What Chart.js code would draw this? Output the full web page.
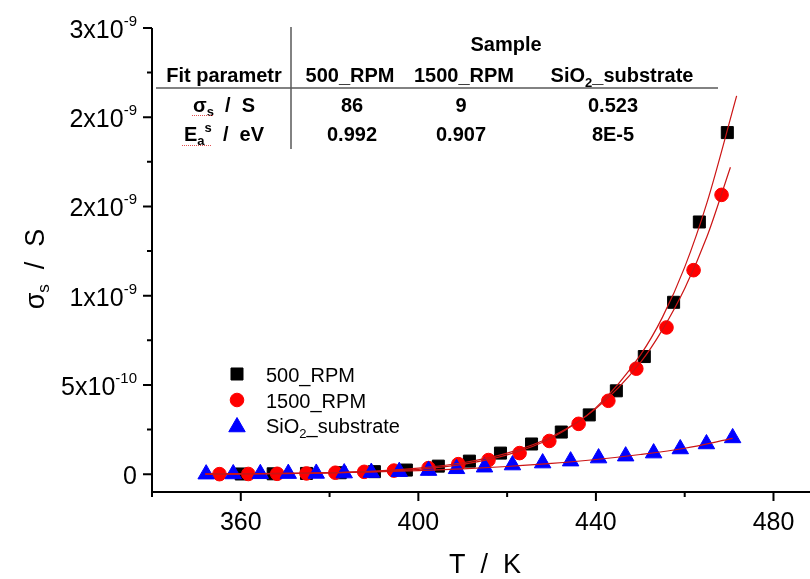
<!DOCTYPE html>
<html>
<head>
<meta charset="utf-8">
<script src="https://cdn.jsdelivr.net/npm/chart.js@4.4.0/dist/chart.umd.min.js"></script>
<style>
  html, body { margin: 0; padding: 0; background: #fff; overflow: hidden; }
  #wrap { width: 810px; height: 579px; }
</style>
</head>
<body>
<div id="wrap"><canvas id="chart"></canvas></div>
<script>
// Surface conductance vs temperature (T in K, sigma in S)

const temp500 = [360.1, 367.3, 374.8, 382.4, 390.1, 397.3, 404.5, 411.5, 418.5, 425.5, 432.2, 438.5, 444.6, 450.9, 457.5, 463.3, 469.6];
const sigma500 = [1e-12, 2e-12, 4e-12, 8e-12, 1.4e-11, 2.3e-11, 4.5e-11, 7.3e-11, 1.18e-10, 1.69e-10, 2.36e-10, 3.32e-10, 4.67e-10, 6.59e-10, 9.63e-10, 1.413e-9, 1.914e-9];

const temp1500 = [355.2, 361.7, 368.2, 374.8, 381.3, 387.8, 394.5, 402.3, 409.0, 415.8, 422.8, 429.5, 436.1, 442.8, 449.1, 455.9, 462.0, 468.3];
const sigma1500 = [0, 1e-12, 2e-12, 4e-12, 8e-12, 1.3e-11, 2.0e-11, 3.4e-11, 5.6e-11, 7.9e-11, 1.18e-10, 1.86e-10, 2.82e-10, 4.11e-10, 5.91e-10, 8.22e-10, 1.143e-9, 1.565e-9];

const tempSiO2 = [352.2, 358.3, 364.4, 370.7, 377.0, 383.3, 389.4, 395.7, 402.3, 408.6, 414.9, 421.2, 428.0, 434.3, 440.6, 446.7, 453.0, 459.0, 464.9, 470.8];
const sigmaSiO2 = [0, 1e-12, 2e-12, 3e-12, 4e-12, 6e-12, 9e-12, 1.4e-11, 2.0e-11, 3.0e-11, 3.9e-11, 5.1e-11, 6.2e-11, 7.3e-11, 9.0e-11, 1.01e-10, 1.18e-10, 1.41e-10, 1.69e-10, 2.03e-10];

// fitted curves
const fitTemp500 = [352, 360, 370, 380, 390, 400, 410, 420, 430, 440, 450, 455, 460, 465, 471.7];
const fitSigma500 = [4e-13, 1e-12, 3e-12, 7e-12, 1.4e-11, 2.7e-11, 5.5e-11, 1.08e-10, 2.03e-10, 3.73e-10, 6.67e-10, 8.8e-10, 1.16e-9, 1.52e-9, 2.12e-9];

const fitTemp1500 = [352, 360, 370, 380, 390, 400, 410, 420, 430, 440, 450, 455, 460, 465, 470.3];
const fitSigma1500 = [1e-12, 2e-12, 4e-12, 8e-12, 1.7e-11, 3.4e-11, 6.4e-11, 1.18e-10, 2.1e-10, 3.67e-10, 6.25e-10, 8.1e-10, 1.04e-9, 1.33e-9, 1.72e-9];

const fitTempSiO2 = [352, 370, 390, 400, 410, 420, 430, 440, 450, 460, 470.8];
const fitSigmaSiO2 = [0, 4e-12, 1.2e-11, 2.0e-11, 3.0e-11, 4.3e-11, 6.0e-11, 8.2e-11, 1.1e-10, 1.45e-10, 2.0e-10];

// axis ticks and labels
const xMajorTicks = [360, 400, 440, 480];
const xMinorTicks = [340, 380, 420, 460];
const yMajorTicks = [0, 5e-10, 1e-9, 1.5e-9, 2e-9, 2.5e-9];
const yMinorTicks = [2.5e-10, 7.5e-10, 1.25e-9, 1.75e-9, 2.25e-9];
const yTickLabels = [['0', ''], ['5x10', '-10'], ['1x10', '-9'], ['2x10', '-9'], ['2x10', '-9'], ['3x10', '-9']];

// fit parameter table
const tableSample = 'Sample';
const tableHeader = ['Fit parametr', '500_RPM', '1500_RPM', 'SiO2_substrate'];
const sigmaRow = ['86', '9', '0.523'];
const energyRow = ['0.992', '0.907', '8E-5'];

const FONT = '"Liberation Sans", Arial, sans-serif';
const FIT_COLOR = '#cc1414';

function toPoints(xs, ys) {
    return xs.map((x, i) => ({ x: x, y: ys[i] }));
}

// draws a run of text pieces (for sub/superscripts)
function drawRich(ctx, parts, x, y, align) {
    let total = 0;
    parts.forEach(p => {
        ctx.font = (p.bold ? 'bold ' : '') + p.size + 'px ' + FONT;
        p.w = ctx.measureText(p.text).width;
        total += p.w;
    });
    let cx = align === 'center' ? x - total / 2 : align === 'right' ? x - total : x;
    ctx.textAlign = 'left';
    ctx.textBaseline = 'alphabetic';
    parts.forEach(p => {
        ctx.font = (p.bold ? 'bold ' : '') + p.size + 'px ' + FONT;
        ctx.fillText(p.text, cx, y + (p.dy || 0));
        cx += p.w;
    });
}

const decorations = {
    id: 'decorations',
    afterDraw(chart) {
        const ctx = chart.ctx;
        const xs = chart.scales.x;
        const ys = chart.scales.y;
        const area = chart.chartArea;
        ctx.save();
        ctx.fillStyle = '#000';
        ctx.strokeStyle = '#000';

        // axes
        ctx.lineWidth = 2;
        ctx.beginPath();
        ctx.moveTo(area.left, area.top);
        ctx.lineTo(area.left, area.bottom);
        ctx.lineTo(chart.width, area.bottom);
        ctx.stroke();

        // tick marks
        ctx.beginPath();
        xMajorTicks.forEach(v => { const p = xs.getPixelForValue(v); ctx.moveTo(p, area.bottom); ctx.lineTo(p, area.bottom + 9); });
        xMinorTicks.forEach(v => { const p = xs.getPixelForValue(v); ctx.moveTo(p, area.bottom); ctx.lineTo(p, area.bottom + 5); });
        yMajorTicks.forEach(v => { const p = ys.getPixelForValue(v); ctx.moveTo(area.left, p); ctx.lineTo(area.left - 9, p); });
        yMinorTicks.forEach(v => { const p = ys.getPixelForValue(v); ctx.moveTo(area.left, p); ctx.lineTo(area.left - 5, p); });
        ctx.stroke();

        // tick labels
        ctx.font = '25px ' + FONT;
        ctx.textAlign = 'center';
        ctx.textBaseline = 'alphabetic';
        xMajorTicks.forEach(v => ctx.fillText(String(v), xs.getPixelForValue(v), area.bottom + 38));
        yMajorTicks.forEach((v, i) => {
            const p = ys.getPixelForValue(v);
            const lab = yTickLabels[i];
            const parts = [{ text: lab[0], size: 25 }];
            if (lab[1]) parts.push({ text: lab[1], size: 15, dy: -12 });
            drawRich(ctx, parts, area.left - 15, p + 10, 'right');
        });

        // axis titles
        drawRich(ctx, [{ text: 'T  /  K', size: 27 }], 485, 573, 'center');
        ctx.save();
        ctx.translate(44, 269);
        ctx.rotate(-Math.PI / 2);
        drawRich(ctx, [{ text: 'σ', size: 27 }, { text: 's', size: 17, dy: 5 }, { text: '  /  S', size: 27 }], 0, 0, 'center');
        ctx.restore();

        // legend
        const legendRows = [
            { ds: chart.data.datasets[5], y: 374, parts: [{ text: '500_RPM', size: 20 }] },
            { ds: chart.data.datasets[4], y: 400, parts: [{ text: '1500_RPM', size: 20 }] },
            { ds: chart.data.datasets[3], y: 425, parts: [{ text: 'SiO', size: 20 }, { text: '2', size: 13, dy: 5 }, { text: '_substrate', size: 20 }] }
        ];
        legendRows.forEach(row => {
            ctx.fillStyle = row.ds.backgroundColor;
            ctx.strokeStyle = row.ds.borderColor;
            ctx.lineWidth = 1;
            const off = row.ds.pointStyle === 'triangle' ? 2 : 0;
            Chart.helpers.drawPoint(ctx, { pointStyle: row.ds.pointStyle, radius: row.ds.pointRadius, rotation: 0, borderWidth: 1 }, 237, row.y + off);
            ctx.fillStyle = '#000';
            drawRich(ctx, row.parts, 266, row.y + 8, 'left');
        });

        // fit parameter table
        ctx.strokeStyle = '#5a5a5a';
        ctx.lineWidth = 1.5;
        ctx.beginPath();
        ctx.moveTo(291, 27); ctx.lineTo(291, 149);
        ctx.moveTo(156, 88); ctx.lineTo(718, 88);
        ctx.stroke();

        ctx.fillStyle = '#000';
        drawRich(ctx, [{ text: tableSample, size: 20, bold: true }], 506, 51, 'center');
        drawRich(ctx, [{ text: tableHeader[0], size: 20, bold: true }], 224, 82, 'center');
        drawRich(ctx, [{ text: tableHeader[1], size: 20, bold: true }], 350, 82, 'center');
        drawRich(ctx, [{ text: tableHeader[2], size: 20, bold: true }], 464, 82, 'center');
        const sio = tableHeader[3];
        drawRich(ctx, [{ text: sio.slice(0, 3), size: 20, bold: true }, { text: sio.slice(3, 4), size: 13, bold: true, dy: 5 }, { text: sio.slice(4), size: 20, bold: true }], 622, 82, 'center');

        drawRich(ctx, [{ text: 'σ', size: 20, bold: true }, { text: 's', size: 13, bold: true, dy: 4 }, { text: '  /  S', size: 20, bold: true }], 224, 112, 'center');
        drawRich(ctx, [{ text: 'E', size: 20, bold: true }, { text: 'a', size: 13, bold: true, dy: 4 }, { text: 's', size: 13, bold: true, dy: -9 }, { text: '  /  eV', size: 20, bold: true }], 224, 141, 'center');

        const colX = [352, 461, 613];
        sigmaRow.forEach((t, i) => drawRich(ctx, [{ text: t, size: 20, bold: true }], colX[i], 112, 'center'));
        energyRow.forEach((t, i) => drawRich(ctx, [{ text: t, size: 20, bold: true }], colX[i], 141, 'center'));

        // spell-check underlines
        ctx.strokeStyle = '#e05050';
        ctx.lineWidth = 1;
        ctx.setLineDash([1, 1]);
        ctx.beginPath();
        ctx.moveTo(192, 115.5); ctx.lineTo(213, 115.5);
        ctx.moveTo(182, 145.5); ctx.lineTo(212, 145.5);
        ctx.stroke();
        ctx.setLineDash([]);

        ctx.restore();
    }
};

function fitLine(xs, ys) {
    return {
        data: toPoints(xs, ys),
        showLine: true,
        borderColor: FIT_COLOR,
        borderWidth: 1.2,
        pointRadius: 0,
        cubicInterpolationMode: 'monotone',
        fill: false
    };
}

new Chart(document.getElementById('chart'), {
    type: 'scatter',
    data: {
        datasets: [
            fitLine(fitTemp500, fitSigma500),
            fitLine(fitTemp1500, fitSigma1500),
            fitLine(fitTempSiO2, fitSigmaSiO2),
            {
                label: 'SiO2_substrate',
                data: toPoints(tempSiO2, sigmaSiO2),
                pointStyle: 'triangle',
                pointRadius: 9.5,
                backgroundColor: '#0000ff',
                borderColor: '#0000ff',
                borderWidth: 1
            },
            {
                label: '1500_RPM',
                data: toPoints(temp1500, sigma1500),
                pointStyle: 'circle',
                pointRadius: 6.8,
                backgroundColor: '#ff0000',
                borderColor: '#ff0000',
                borderWidth: 1
            },
            {
                label: '500_RPM',
                data: toPoints(temp500, sigma500),
                pointStyle: 'rect',
                pointRadius: 8.5,
                backgroundColor: '#000000',
                borderColor: '#000000',
                borderWidth: 1
            }
        ]
    },
    options: {
        responsive: true,
        maintainAspectRatio: false,
        animation: false,
        layout: {
            autoPadding: false,
            padding: { left: 152, right: 1, top: 28, bottom: 87 }
        },
        plugins: {
            legend: { display: false },
            tooltip: { enabled: false }
        },
        scales: {
            x: { type: 'linear', min: 340, max: 488, display: false },
            y: { type: 'linear', min: -1e-10, max: 2.5e-9, display: false }
        }
    },
    plugins: [decorations]
});
</script>
</body>
</html>
